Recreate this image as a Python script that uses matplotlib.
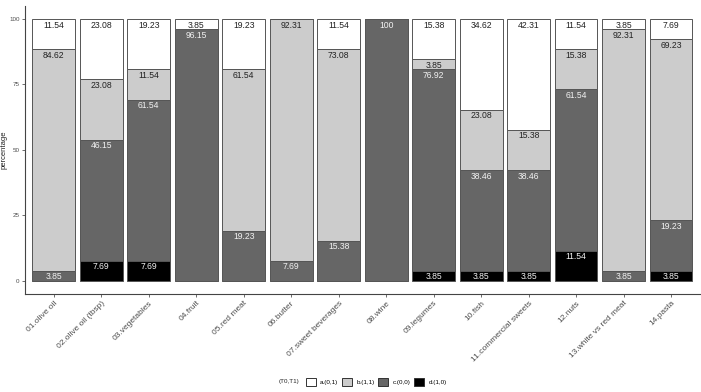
import numpy as np
import matplotlib
matplotlib.use("Agg")
import matplotlib.pyplot as plt
from matplotlib.patches import Patch

plt.rcParams["font.family"] = ["Liberation Sans", "DejaVu Sans"]

items = ["01.olive oil", "02.olive oil (tbsp)", "03.vegetables", "04.fruit",
         "05.red meat", "06.butter", "07.sweet beverages", "08.wine",
         "09.legumes", "10.fish", "11.commercial sweets", "12.nuts",
         "13.white vs red meat", "14.pasta"]

# stacked bottom -> top: d.(1,0), c.(0,0), b.(1,1), a.(0,1)
d_10 = [0, 7.69, 7.69, 0, 0, 0, 0, 0, 3.85, 3.85, 3.85, 11.54, 0, 3.85]
c_00 = [3.85, 46.15, 61.54, 96.15, 19.23, 7.69, 15.38, 100, 76.92, 38.46,
        38.46, 61.54, 3.85, 19.23]
b_11 = [84.62, 23.08, 11.54, 0, 61.54, 92.31, 73.08, 0, 3.85, 23.08,
        15.38, 15.38, 92.31, 69.23]
a_01 = [11.54, 23.08, 19.23, 3.85, 19.23, 0, 11.54, 0, 15.38, 34.62,
        42.31, 11.54, 3.85, 7.69]

series = [("d.(1,0)", d_10, "#000000", "#f2f2f2"),
          ("c.(0,0)", c_00, "#666666", "#f2f2f2"),
          ("b.(1,1)", b_11, "#cccccc", "#222222"),
          ("a.(0,1)", a_01, "#ffffff", "#222222")]

fig = plt.figure(figsize=(7.01, 3.92), dpi=100)
ax = fig.add_axes([0.036, 0.25, 0.962, 0.735])

x = np.arange(1, len(items) + 1)
bottom = np.zeros(len(items))
for name, vals, fc, tc in series:
    vals = np.array(vals, dtype=float)
    ax.bar(x, vals, width=0.9, bottom=bottom, color=fc,
           edgecolor="#555555", linewidth=0.7)
    for xi, b, v in zip(x, bottom, vals):
        if v > 0:
            ax.text(xi, b + v - 0.6, f"{v:g}", ha="center", va="top",
                    fontsize=6.2, color=tc)
    bottom += vals

ax.set_xlim(0.4, len(items) + 0.6)
ax.set_ylim(-5, 105)
ax.set_yticks([0, 25, 50, 75, 100])
ax.set_yticklabels(["0", "25", "50", "75", "100"], fontsize=4.5, color="#4d4d4d")
ax.set_xticks(x)
ax.set_xticklabels(items, rotation=45, ha="right", rotation_mode="anchor",
                   fontsize=6, color="#4d4d4d")
ax.tick_params(axis="both", length=2, width=0.5, color="#333333", pad=2)
ax.set_ylabel("percentage", fontsize=5.5, color="#222222")
ax.yaxis.set_label_coords(-0.027, 0.5)
for s in ["top", "right"]:
    ax.spines[s].set_visible(False)
for s in ["left", "bottom"]:
    ax.spines[s].set_color("#444444")
    ax.spines[s].set_linewidth(0.8)

handles = [Patch(facecolor=fc, edgecolor="#333333", linewidth=0.7, label=name)
           for name, _, fc, _ in reversed(series)]
fig.text(0.397, 0.026, "(T0,T1)", fontsize=4.5, color="#222222",
         ha="left", va="center")
fig.legend(handles=handles, loc="center left", bbox_to_anchor=(0.436, 0.026),
           ncol=4, frameon=False, fontsize=4.5, handlelength=1.6,
           handleheight=1.6, handletextpad=0.7, columnspacing=0.6,
           borderpad=0, borderaxespad=0)

fig.savefig("out.png", dpi=100)
